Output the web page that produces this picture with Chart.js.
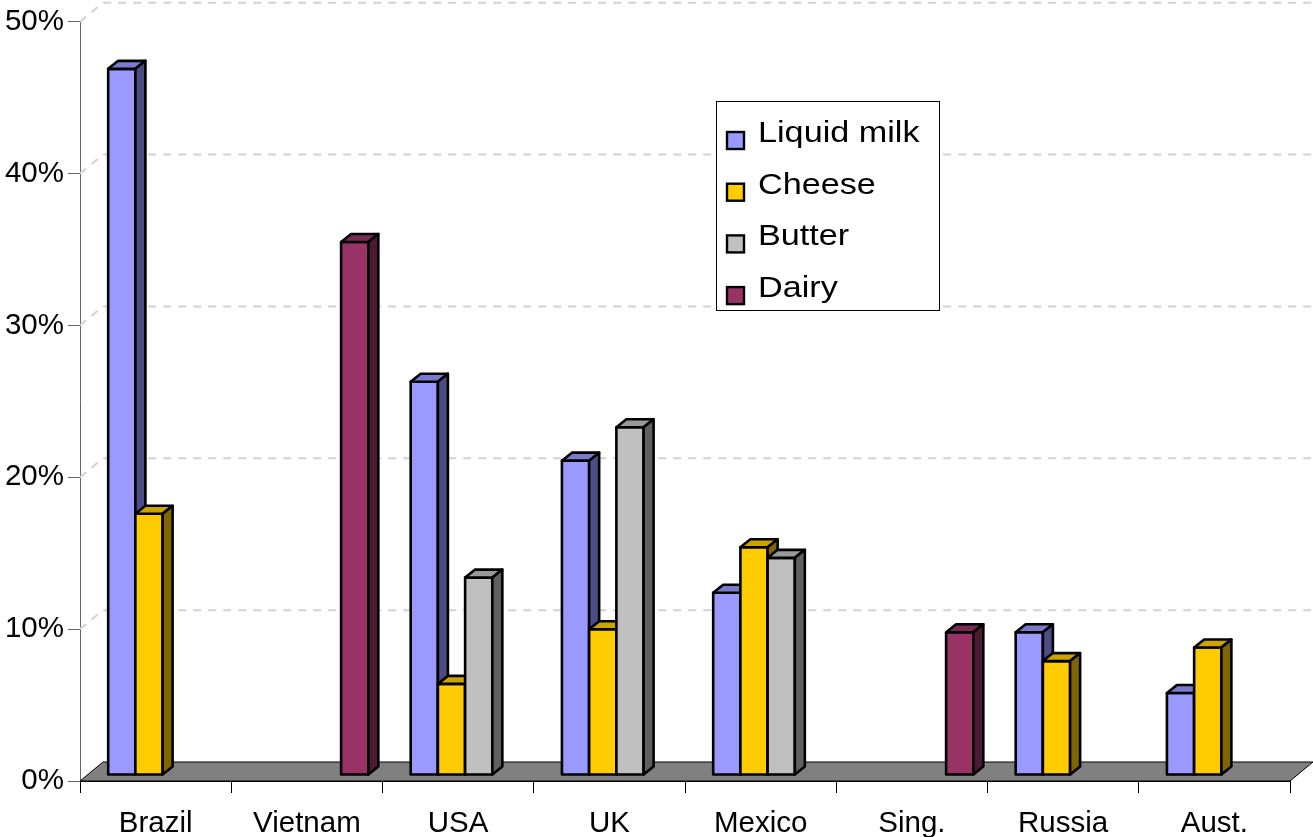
<!DOCTYPE html>
<html>
<head>
<meta charset="utf-8">
<script src="https://cdn.jsdelivr.net/npm/chart.js@4"></script>
<style>
  html, body { margin: 0; padding: 0; background: #fff; }
  #wrap { width: 1313px; height: 837px; }
</style>
</head>
<body>
<div id="wrap"><canvas id="c" width="1313" height="837"></canvas></div>
<script>
// Market share by country and product
const countries  = ['Brazil', 'Vietnam', 'USA', 'UK', 'Mexico', 'Sing.', 'Russia', 'Aust.'];
const seriesNames = ['Liquid milk', 'Cheese', 'Butter', 'Dairy'];
const liquidMilk = [0.465, null, 0.259, 0.207, 0.120, null, 0.094, 0.054];
const cheese     = [0.172, null, 0.060, 0.096, 0.150, null, 0.075, 0.084];
const butter     = [null,  null, 0.130, 0.229, 0.143, null, null,  null ];
const dairy      = [null,  0.351, null, null,  null,  0.094, null, null ];
const yTicks     = [0, 0.1, 0.2, 0.3, 0.4, 0.5];

// Face colours: front, top, side
const faces = [
  { front: '#9999FF', top: '#7a7acc', side: '#4d4d85' },
  { front: '#FFCC00', top: '#cca300', side: '#806600' },
  { front: '#C0C0C0', top: '#999999', side: '#606060' },
  { front: '#993366', top: '#7a2952', side: '#4d1a33' }
];

const FONT_FAMILY = '"Liberation Sans", Arial, sans-serif';
const DEPTH_X = 10, DEPTH_Y = 8;    // depth of each bar
const SHIFT_X = 7,  SHIFT_Y = 6;    // bars stand midway across the floor
const FLOOR_X = 23, FLOOR_Y = 19;   // depth of floor and back wall

function poly(ctx, pts, fill) {
  ctx.beginPath();
  ctx.moveTo(pts[0][0], pts[0][1]);
  for (let k = 1; k < pts.length; k++) ctx.lineTo(pts[k][0], pts[k][1]);
  ctx.closePath();
  ctx.fillStyle = fill;
  ctx.fill();
  ctx.stroke();
}

const scene3d = {
  id: 'scene3d',
  beforeDatasetsDraw(chart) {
    const { ctx, chartArea: a, scales: { y } } = chart;
    ctx.save();
    // dashed gridlines on the back wall and side wall
    ctx.strokeStyle = '#d2d2d2';
    ctx.lineWidth = 2;
    ctx.setLineDash([8, 7]);
    yTicks.forEach(v => {
      if (v === 0) return;
      const py = y.getPixelForValue(v);
      ctx.beginPath();
      ctx.moveTo(a.left, py);
      ctx.lineTo(a.left + FLOOR_X, py - FLOOR_Y);
      ctx.lineTo(a.right + FLOOR_X, py - FLOOR_Y);
      ctx.stroke();
    });
    ctx.setLineDash([]);
    // floor
    const p0 = y.getPixelForValue(0);
    ctx.beginPath();
    ctx.moveTo(a.left, p0);
    ctx.lineTo(a.left + FLOOR_X, p0 - FLOOR_Y);
    ctx.lineTo(a.right + FLOOR_X, p0 - FLOOR_Y);
    ctx.lineTo(a.right, p0);
    ctx.closePath();
    ctx.fillStyle = '#808080';
    ctx.fill();
    ctx.strokeStyle = '#000';
    ctx.lineWidth = 1;
    ctx.stroke();
    ctx.restore();
  },
  afterDatasetsDraw(chart) {
    const ctx = chart.ctx;
    // gather every bar, then draw from left to right so nearer faces overlap correctly
    const bars = [];
    chart.data.datasets.forEach((ds, d) => {
      chart.getDatasetMeta(d).data.forEach((bar, i) => {
        if (ds.data[i] == null) return;
        const p = bar.getProps(['x', 'y', 'base', 'width'], true);
        bars.push({ ...p, f: faces[d] });
      });
    });
    bars.sort((a, b) => a.x - b.x);
    ctx.save();
    ctx.translate(SHIFT_X, -SHIFT_Y);
    ctx.lineWidth = 2.6;
    ctx.strokeStyle = '#000';
    ctx.lineJoin = 'round';
    bars.forEach(b => {
      const l = b.x - b.width / 2, r = b.x + b.width / 2, t = b.y, bs = b.base;
      poly(ctx, [[l, t], [r, t], [r, bs], [l, bs]], b.f.front);
      poly(ctx, [[l, t], [l + DEPTH_X, t - DEPTH_Y], [r + DEPTH_X, t - DEPTH_Y], [r, t]], b.f.top);
      poly(ctx, [[r, t], [r + DEPTH_X, t - DEPTH_Y], [r + DEPTH_X, bs - DEPTH_Y], [r, bs]], b.f.side);
    });
    ctx.restore();
  }
};

const boxLegend = {
  id: 'boxLegend',
  afterDraw(chart) {
    const ctx = chart.ctx;
    const bx = 716, by = 101, bw = 223, bh = 209;
    ctx.save();
    ctx.fillStyle = '#fff';
    ctx.fillRect(bx, by, bw, bh);
    ctx.strokeStyle = '#000';
    ctx.lineWidth = 1;
    ctx.strokeRect(bx + 0.5, by + 0.5, bw, bh);
    chart.data.datasets.forEach((ds, i) => {
      const baseline = 142 + i * 51.7;
      ctx.fillStyle = faces[i].front;
      ctx.fillRect(727, baseline - 10, 17, 17);
      ctx.lineWidth = 2.4;
      ctx.strokeRect(727, baseline - 10, 17, 17);
      ctx.save();
      ctx.translate(758, baseline);
      ctx.scale(1.14, 1);
      ctx.font = '30px ' + FONT_FAMILY;
      ctx.fillStyle = '#000';
      ctx.textBaseline = 'alphabetic';
      ctx.textAlign = 'left';
      ctx.fillText(ds.label, 0, 0);
      ctx.restore();
    });
    ctx.restore();
  }
};

const seriesData = [liquidMilk, cheese, butter, dairy];
const tickFont = { family: FONT_FAMILY, size: 29.5 };

new Chart(document.getElementById('c'), {
  type: 'bar',
  data: {
    labels: countries,
    datasets: seriesNames.map((name, i) => ({
      label: name,
      data: seriesData[i],
      backgroundColor: 'rgba(0,0,0,0)',
      borderWidth: 0,
      categoryPercentage: 0.72,
      barPercentage: 1.0
    }))
  },
  options: {
    responsive: false,
    animation: false,
    events: [],
    devicePixelRatio: 1,
    layout: { padding: { top: 21, right: 23, left: 0, bottom: 0 } },
    plugins: { legend: { display: false }, tooltip: { enabled: false } },
    scales: {
      x: {
        grid: { drawOnChartArea: false, tickLength: 12, color: '#000', offset: true },
        border: { display: true, color: '#000' },
        ticks: { font: tickFont, color: '#000', padding: 13, maxRotation: 0, autoSkip: false },
        afterFit(s) { s.height = 56; }
      },
      y: {
        min: 0, max: 0.5,
        grid: { drawOnChartArea: false, tickLength: 12, color: '#666' },
        border: { display: true, color: '#666' },
        ticks: {
          font: tickFont, color: '#000', padding: 4,
          callback: v => Math.round(v * 100) + '%'
        },
        afterBuildTicks(s) { s.ticks = yTicks.map(v => ({ value: v })); },
        afterFit(s) { s.width = 80; }
      }
    }
  },
  plugins: [scene3d, boxLegend]
});
</script>
</body>
</html>
